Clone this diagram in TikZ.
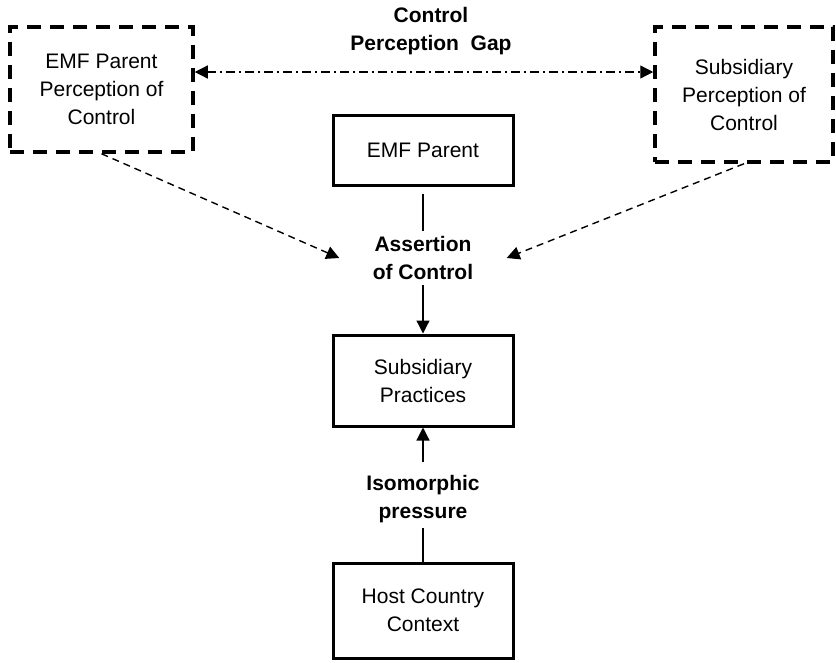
\documentclass[tikz,border=0pt]{standalone}
\usepackage{fontspec}
\setmainfont{Liberation Sans}
\usetikzlibrary{arrows.meta}

\begin{document}
\begin{tikzpicture}[x=1pt, y=-1pt,
    box/.style={rectangle, draw=black, line width=3pt, minimum width=180pt, align=center, font=\fontsize{21}{28}\selectfont, inner sep=0pt},
    viewbox/.style={rectangle, draw=black, line width=3.5pt, dash pattern=on 14pt off 9pt, align=center, font=\fontsize{21}{28}\selectfont, inner sep=0pt},
    linklabel/.style={align=center, font=\fontsize{21}{28}\selectfont\bfseries, inner sep=5pt},
    arrow/.style={-{Triangle[length=13pt, width=13pt]}, line width=1.2pt},
    viewarrow/.style={arrow, line width=1.4pt, dash pattern=on 7pt off 5pt},
    gaparrow/.style={{Triangle[length=13pt, width=13pt]}-{Triangle[length=13pt, width=13pt]}, line width=1.2pt, dash pattern=on 9pt off 4pt on 2pt off 4pt}
]
\useasboundingbox (0,0) rectangle (836,662);

% Perceptions of control
\node[viewbox, minimum width=183pt, minimum height=125pt] (parentview) at (101.5, 89.5) {EMF Parent\\Perception of\\Control};
\node[viewbox, minimum width=178pt, minimum height=135pt] (subview) at (744, 94.5) {Subsidiary\\Perception of\\Control};
\node[linklabel] (gap) at (431, 31) {Control\\Perception~~Gap};
\coordinate (gapline) at (431, 72);

% Centre column
\node[box, minimum height=70pt] (parent) at (423, 150) {EMF Parent};
\node[linklabel, minimum width=167pt] (assertion) at (423, 258) {Assertion\\of Control};
\node[box, minimum height=91pt] (practices) at (423, 380.5) {Subsidiary\\Practices};
\node[linklabel] (isomorphic) at (423, 499) {Isomorphic\\pressure};
\node[box, minimum height=95pt] (host) at (423, 610.5) {Host Country\\Context};

% Arrows
\draw[gaparrow] (parentview.east |- gapline) -- (subview.west |- gapline);
\draw[viewarrow] (parentview.south) -- (assertion.west);
\draw[viewarrow] (subview.south) -- (assertion.east);

\draw[line width=1.2pt, shorten <=7pt] (parent) -- (assertion);
\draw[arrow] (assertion) -- (practices);
\draw[line width=1.2pt] (host) -- (isomorphic);
\draw[arrow, shorten <=8pt] (isomorphic) -- (practices);

\end{tikzpicture}
\end{document}
